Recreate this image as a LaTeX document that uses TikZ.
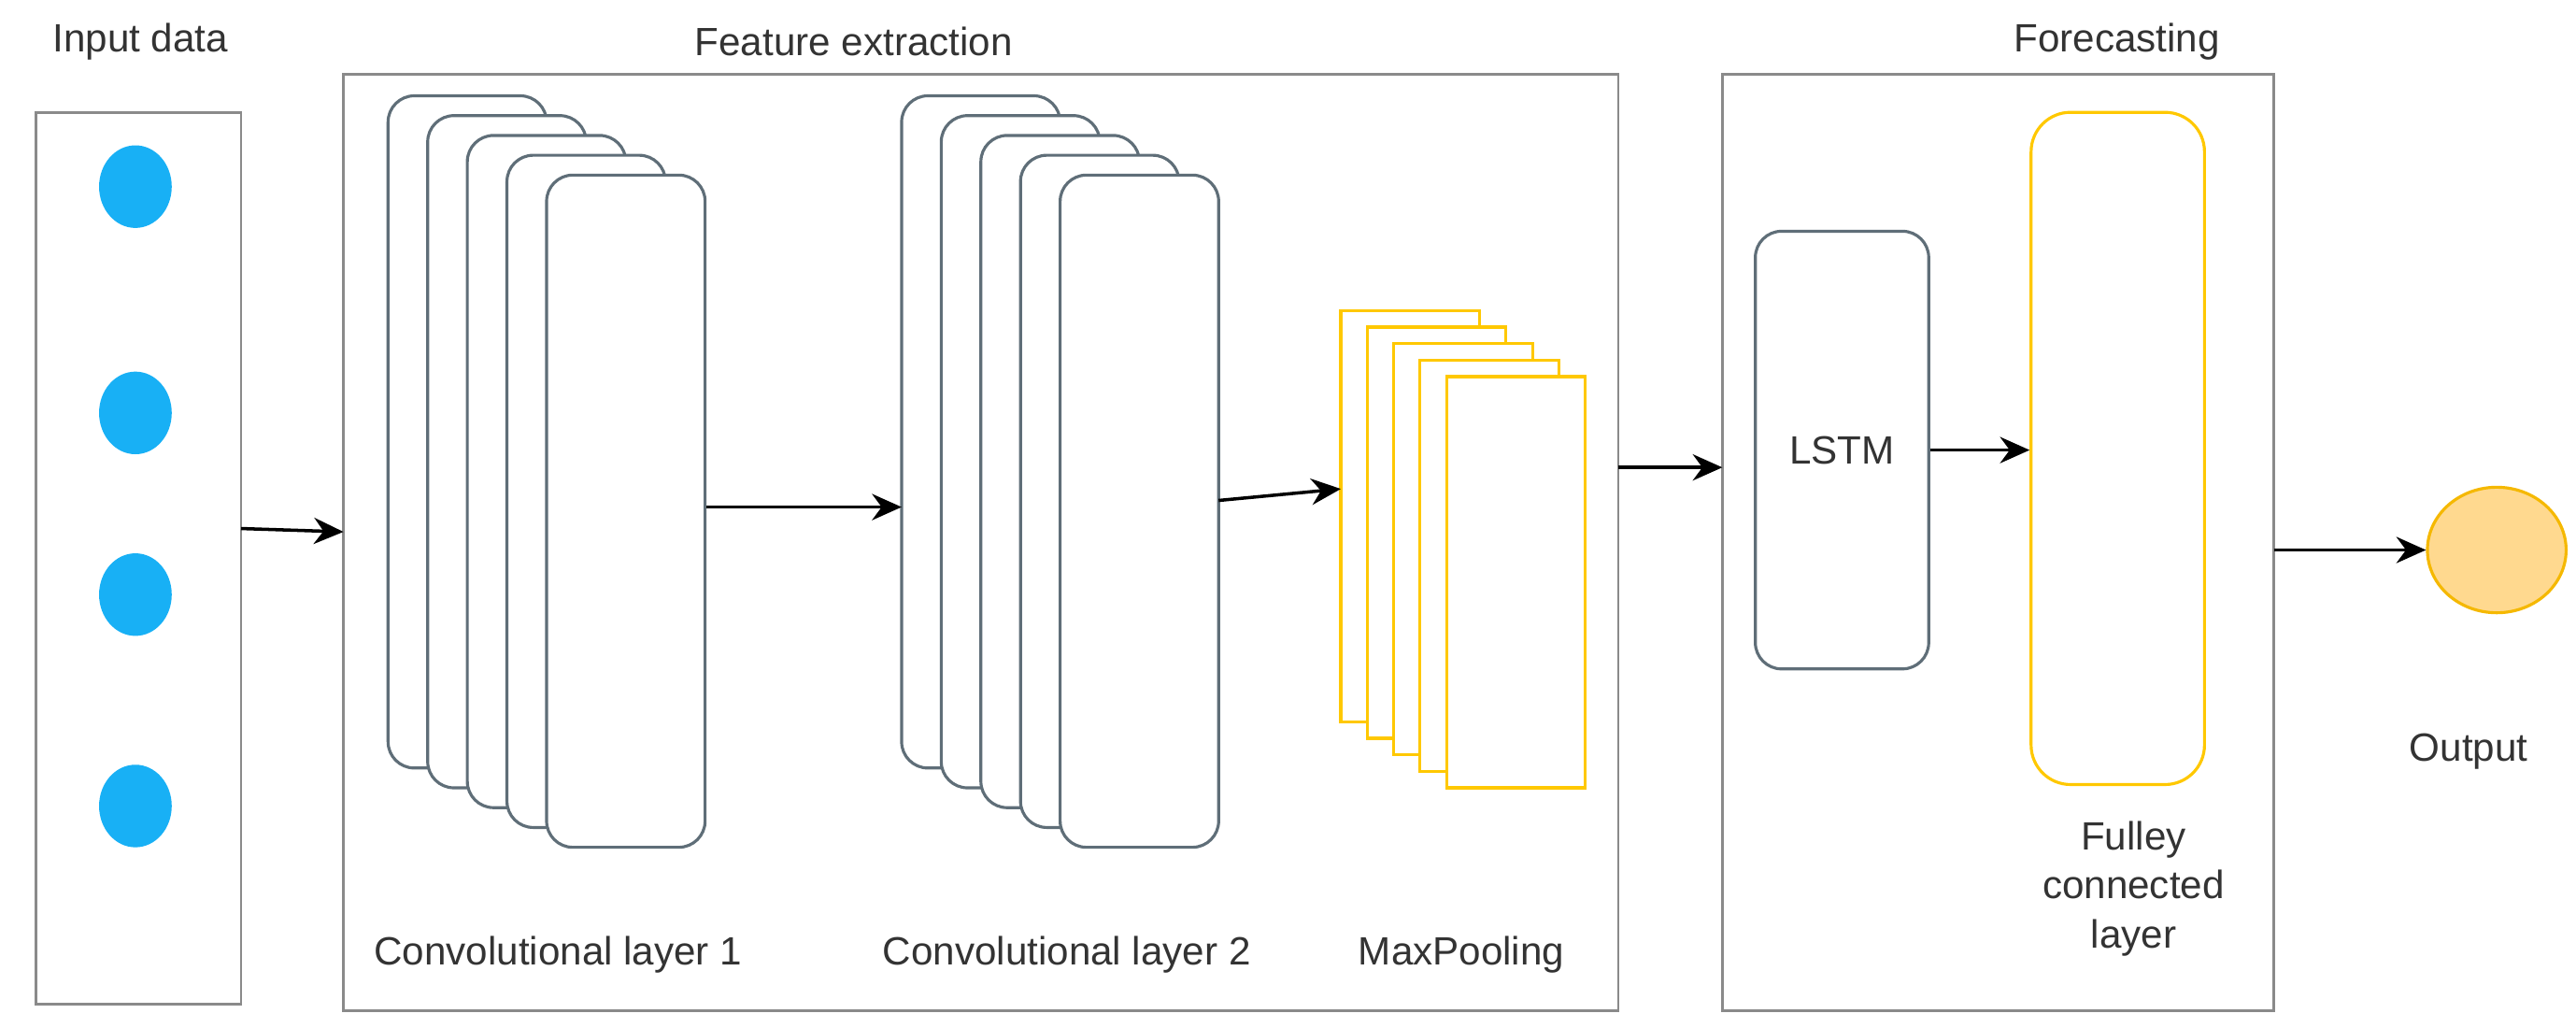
\documentclass[tikz,border=0pt]{standalone}
\usepackage{fontspec}
\setmainfont{Liberation Sans}
\usetikzlibrary{arrows.meta,shapes.geometric}
\definecolor{frame}{HTML}{8A8A8A}
\definecolor{slate}{HTML}{5F6E78}
\definecolor{yel}{HTML}{FFC800}
\definecolor{blu}{HTML}{18B0F5}
\definecolor{outf}{HTML}{FFD98F}
\definecolor{outs}{HTML}{F5B800}
\definecolor{txt}{HTML}{333333}
\tikzset{
  box/.style={draw=frame,line width=0.8pt},
  layer/.style={draw=slate,fill=white,line width=0.9pt,rounded corners=8pt},
  ylayer/.style={draw=yel,fill=white,line width=0.9pt},
  lbl/.style={text=txt,font=\fontsize{12}{15}\selectfont,align=center},
  arr/.style={-{Stealth[length=9pt,width=8pt]},line width=1pt,black}
}
\begin{document}
\begin{tikzpicture}[x=0.01767cm,y=-0.01767cm]
\useasboundingbox (0,0) rectangle (1560,622);
% input
\draw[box] (22,68) rectangle (146,608);
\coordinate (inR) at (146,320);
\foreach \yy/\n in {113/a,250/b,360/c,488/d}
  \fill[blu] (82,\yy) ellipse (22 and 25);
\node[lbl] (tin) at (85,25) {Input data};
% feature box
\draw[box] (208,45) rectangle (980,612);
\coordinate (feL) at (208,322);
\coordinate (feR) at (980,283);
\node[lbl] (tfe) at (517,25) {Feature extraction};
% conv1
\foreach \i in {0,...,4}
  \draw[layer] (235+24*\i,58+12*\i) rectangle +(96,407);
\coordinate (c1R) at (428,307);
\coordinate (c2L) at (546,307);
\foreach \i in {0,...,4}
  \draw[layer] (546+24*\i,58+12*\i) rectangle +(96,407);
\coordinate (c2R) at (738,303);
% maxpool
\foreach \i in {0,...,4}
  \draw[ylayer] (812+16*\i,188+10*\i) rectangle +(84,249);
\coordinate (mpL) at (812,296);
\node[lbl] at (338,578) {Convolutional layer 1};
\node[lbl] at (646,578) {Convolutional layer 2};
\node[lbl] at (885,578) {MaxPooling};
% forecasting
\draw[box] (1043,45) rectangle (1377,612);
\coordinate (fcL) at (1043,283);
\coordinate (fcR) at (1377,333);
\node[lbl] (tfc) at (1282,25) {Forecasting};
\node[layer,minimum width=105*0.01767cm,minimum height=265*0.01767cm,inner sep=0pt,lbl] (lstm) at (1115.5,272.5) {LSTM};
\node[draw=yel,line width=0.9pt,rounded corners=12pt,minimum width=105*0.01767cm,minimum height=407*0.01767cm,inner sep=0pt] (fc) at (1282.5,271.5) {};
\node[lbl] at (1292,538) {Fulley\\connected\\layer};
\node[draw=outs,fill=outf,line width=0.9pt,ellipse,minimum width=84*0.01767cm,minimum height=76*0.01767cm,inner sep=0pt] (out) at (1512,333) {};
\node[lbl] at (1495,455) {Output};
% arrows
\draw[arr] (inR) -- (feL);
\draw[arr] (c1R) -- (c2L);
\draw[arr] (c2R) -- (mpL);
\draw[arr] (feR) -- (fcL);
\draw[arr] (lstm.east) -- (lstm.east -| fc.west);
\draw[arr] (fcR) -- (out.west);
\end{tikzpicture}
\end{document}
